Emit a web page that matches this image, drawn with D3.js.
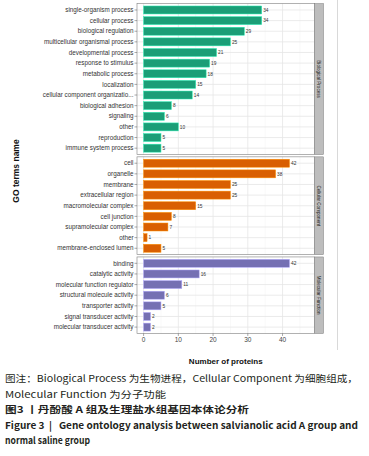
<!DOCTYPE html>
<html><head><meta charset="utf-8">
<script src="https://cdn.jsdelivr.net/npm/d3@7"></script>
<style>body{margin:0;background:#fff}svg{display:block}</style>
</head><body>
<script>
const bpTerms = ["single-organism process","cellular process","biological regulation","multicellular organismal process","developmental process","response to stimulus","metabolic process","localization","cellular component organizatio...","biological adhesion","signaling","other","reproduction","immune system process"];
const bpValues = [34,34,29,25,21,19,18,15,14,8,6,10,5,5];
const ccTerms = ["cell","organelle","membrane","extracellular region","macromolecular complex","cell junction","supramolecular complex","other","membrane-enclosed lumen"];
const ccValues = [42,38,25,25,15,8,7,1,5];
const mfTerms = ["binding","catalytic activity","molecular function regulator","structural molecule activity","transporter activity","signal transducer activity","molecular transducer activity"];
const mfValues = [42,16,11,6,5,2,2];
const panelNames = ["Biological Process","Cellular Component","Molecular Function"];
const panelColors = ["#1B9E77","#D95F02","#7570B3"];
const xTicks = [0,10,20,30,40];
const captionLines = [
  "图注：Biological Process 为生物进程，Cellular Component 为细胞组成，",
  "Molecular Function 为分子功能",
  "图3 丨丹酚酸 A 组及生理盐水组基因本体论分析",
  "Figure 3\u00a0\u00a0|\u00a0\u00a0\u00a0Gene ontology analysis between salvianolic acid A group and",
  "normal saline group"
];

const W = 369, H = 456;
const svg = d3.select("body").append("svg").attr("width", W).attr("height", H);

const panels = [
  {terms: bpTerms, values: bpValues},
  {terms: ccTerms, values: ccValues},
  {terms: mfTerms, values: mfValues}
];
const plotL = 137, plotR = 314.5;
const x = d3.scaleLinear().domain([-1.9, 49.2]).range([plotL, plotR]);
const step = 10.63, gap = 2.3;
let curTop = 3.6;

svg.append("line").attr("x1", 337.5).attr("x2", 337.5).attr("y1", 0).attr("y2", 350)
  .attr("stroke", "#cfcfcf").attr("stroke-width", 0.8);

panels.forEach((p, i) => {
  const h = step * (p.terms.length + 0.2);
  const yc = d3.scalePoint().domain(p.terms).range([curTop + step*0.6, curTop + h - step*0.6]);
  const g = svg.append("g");
  g.append("rect").attr("x", plotL).attr("y", curTop).attr("width", plotR - plotL).attr("height", h).attr("fill", "#fff");
  [5,15,25,35,45].forEach(v => g.append("line").attr("x1", x(v)).attr("x2", x(v)).attr("y1", curTop).attr("y2", curTop+h)
    .attr("stroke", "#f2f2f2").attr("stroke-width", 0.5));
  xTicks.forEach(v => g.append("line").attr("x1", x(v)).attr("x2", x(v)).attr("y1", curTop).attr("y2", curTop+h)
    .attr("stroke", "#e6e6e6").attr("stroke-width", 0.8));
  p.terms.forEach(t => g.append("line").attr("x1", plotL).attr("x2", plotR).attr("y1", yc(t)).attr("y2", yc(t))
    .attr("stroke", "#e6e6e6").attr("stroke-width", 0.8));
  const bh = step * 0.75;
  g.selectAll("rect.bar").data(p.terms).join("rect").attr("class", "bar")
    .attr("x", x(0)).attr("y", t => yc(t) - bh/2)
    .attr("width", (t, j) => x(p.values[j]) - x(0)).attr("height", bh)
    .attr("fill", panelColors[i]).attr("stroke", d3.color(panelColors[i]).brighter(1.2)).attr("stroke-width", 0.5);
  g.selectAll("text.val").data(p.terms).join("text").attr("class", "val")
    .attr("x", (t, j) => x(p.values[j]) + 1.5).attr("y", t => yc(t) + 1.8)
    .attr("font-family", "Liberation Sans, Arial, sans-serif").attr("font-size", 4.8).attr("fill", "#333")
    .text((t, j) => p.values[j]);
  g.append("rect").attr("x", plotL).attr("y", curTop).attr("width", plotR - plotL).attr("height", h)
    .attr("fill", "none").attr("stroke", "#7f7f7f").attr("stroke-width", 0.6);
  p.terms.forEach(t => {
    g.append("line").attr("x1", plotL - 2.5).attr("x2", plotL).attr("y1", yc(t)).attr("y2", yc(t)).attr("stroke", "#555").attr("stroke-width", 0.5);
    g.append("text").attr("x", plotL - 3.5).attr("y", yc(t) + 2.2).attr("text-anchor", "end")
      .attr("font-family", "Liberation Sans, Arial, sans-serif").attr("font-size", 6.3).attr("fill", "#333").text(t);
  });
  g.append("rect").attr("x", plotR).attr("y", curTop).attr("width", 9).attr("height", h)
    .attr("fill", "#bdbdbd").attr("stroke", "#7a7a7a").attr("stroke-width", 0.5);
  g.append("text").attr("transform", `translate(${plotR + 4.5},${curTop + h/2}) rotate(90)`)
    .attr("text-anchor", "middle").attr("dy", "0.35em")
    .attr("font-family", "Liberation Sans, Arial, sans-serif").attr("font-size", 4.6).attr("fill", "#1a1a1a")
    .text(panelNames[i]);
  curTop += h + gap;
});
const bottom = curTop - gap;
const ax = svg.append("g").attr("transform", `translate(0,${bottom})`);
xTicks.forEach(v => {
  ax.append("line").attr("x1", x(v)).attr("x2", x(v)).attr("y1", 0).attr("y2", 2.5).attr("stroke", "#555").attr("stroke-width", 0.5);
  ax.append("text").attr("x", x(v)).attr("y", 8.5).attr("text-anchor", "middle")
    .attr("font-family", "Liberation Sans, Arial, sans-serif").attr("font-size", 6.5).attr("fill", "#444").text(v);
});
svg.append("text").attr("x", (plotL + plotR)/2).attr("y", 364).attr("text-anchor", "middle")
  .attr("font-family", "Liberation Sans, Arial, sans-serif").attr("font-size", 8).attr("font-weight", "bold").attr("fill", "#111")
  .text("Number of proteins");
svg.append("text").attr("transform", `translate(19,171) rotate(-90)`).attr("text-anchor", "middle")
  .attr("font-family", "Liberation Sans, Arial, sans-serif").attr("font-size", 8.5).attr("font-weight", "bold").attr("fill", "#111")
  .text("GO terms name");

const capY = [382, 397.5, 413, 429, 444];
const capEnd = [358, 166, 249, 358, 90];
const capBold = [false, false, true, true, true];
captionLines.forEach((t, i) => {
  svg.append("text").attr("x", 5).attr("y", capY[i])
    .attr("font-family", "Noto Sans CJK SC, Noto Sans, sans-serif").attr("font-size", 9.5)
    .attr("font-weight", capBold[i] ? "bold" : "normal").attr("fill", "#231f20")
    .attr("textLength", capEnd[i] - 5).attr("lengthAdjust", "spacingAndGlyphs")
    .text(t);
});
</script>
</body></html>
